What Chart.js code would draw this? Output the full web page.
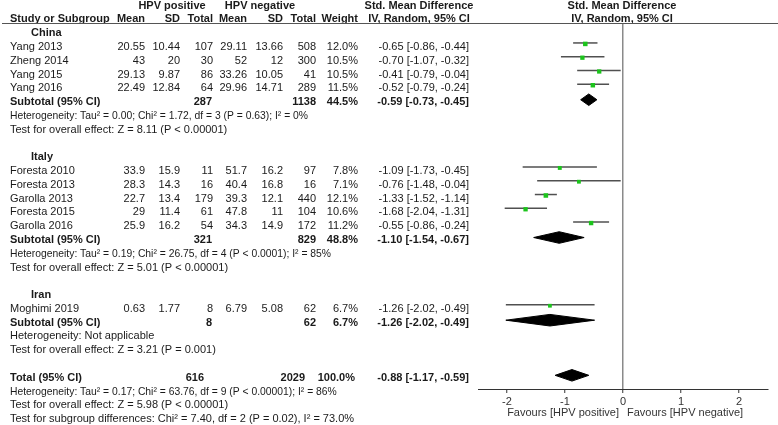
<!DOCTYPE html>
<html>
<head>
<meta charset="utf-8">
<script src="https://cdn.jsdelivr.net/npm/chart.js@4"></script>
<style>
  html, body { margin: 0; padding: 0; background: #fff; }
  #wrap { width: 778px; height: 425px; }
</style>
</head>
<body>
<div id="wrap"><canvas id="forest" width="778" height="425"></canvas></div>
<script>
// ---- data ----
const groups = ['China', 'Italy', 'Iran']
const studies = ['Yang 2013', 'Zheng 2014', 'Yang 2015', 'Yang 2016', 'Foresta 2010', 'Foresta 2013', 'Garolla 2013', 'Foresta 2015', 'Garolla 2016', 'Moghimi 2019']
const studyGroup = [0, 0, 0, 0, 1, 1, 1, 1, 1, 2]
const posMean = [20.55, 43, 29.13, 22.49, 33.9, 28.3, 22.7, 29, 25.9, 0.63]
const posSD = [10.44, 20, 9.87, 12.84, 15.9, 14.3, 13.4, 11.4, 16.2, 1.77]
const posTotal = [107, 30, 86, 64, 11, 16, 179, 61, 54, 8]
const negMean = [29.11, 52, 33.26, 29.96, 51.7, 40.4, 39.3, 47.8, 34.3, 6.79]
const negSD = [13.66, 12, 10.05, 14.71, 16.2, 16.8, 12.1, 11, 14.9, 5.08]
const negTotal = [508, 300, 41, 289, 97, 16, 440, 104, 172, 62]
const weight = [12.0, 10.5, 10.5, 11.5, 7.8, 7.1, 12.1, 10.6, 11.2, 6.7]
const smd = [-0.65, -0.70, -0.41, -0.52, -1.09, -0.76, -1.33, -1.68, -0.55, -1.26]
const ciLow = [-0.86, -1.07, -0.79, -0.79, -1.73, -1.48, -1.52, -2.04, -0.86, -2.02]
const ciHigh = [-0.44, -0.32, -0.04, -0.24, -0.45, -0.04, -1.14, -1.31, -0.24, -0.49]

const subPosTotal = [287, 321, 8]
const subNegTotal = [1138, 829, 62]
const subWeight = [44.5, 48.8, 6.7]
const subSmd = [-0.59, -1.10, -1.26]
const subLow = [-0.73, -1.54, -2.02]
const subHigh = [-0.45, -0.67, -0.49]
const subHet = [
    'Heterogeneity: Tau² = 0.00; Chi² = 1.72, df = 3 (P = 0.63); I² = 0%',
    'Heterogeneity: Tau² = 0.19; Chi² = 26.75, df = 4 (P < 0.0001); I² = 85%',
    'Heterogeneity: Not applicable'
]
const subTest = [
    'Test for overall effect: Z = 8.11 (P < 0.00001)',
    'Test for overall effect: Z = 5.01 (P < 0.00001)',
    'Test for overall effect: Z = 3.21 (P = 0.001)'
]

const totalN = [616, 2029]
const totalWeight = 100.0
const totalEst = [-0.88, -1.17, -0.59]
const totalNotes = [
    'Heterogeneity: Tau² = 0.17; Chi² = 63.76, df = 9 (P < 0.00001); I² = 86%',
    'Test for overall effect: Z = 5.98 (P < 0.00001)',
    'Test for subgroup differences: Chi² = 7.40, df = 2 (P = 0.02), I² = 73.0%'
]
const xTicks = [-2, -1, 0, 1, 2]
const favours = ['Favours [HPV positive]', 'Favours [HPV negative]']

// ---- row layout (one row per text line) ----
const studyRow = [], groupRow = [], subRow = [], hetRow = [], testRow = []
let r = 2
groups.forEach((g, gi) => {
    groupRow[gi] = r++
    studies.forEach((s, i) => { if (studyGroup[i] === gi) studyRow[i] = r++ })
    subRow[gi] = r++
    hetRow[gi] = r++
    testRow[gi] = r++
    r++
})
const totalRow = r

const FONT = '"Liberation Sans", Arial, sans-serif'
const GREEN = '#1cc41c'
const MARK_SHIFT = 0.3    // squares sit a little above the text line
const DIAM_SHIFT = 0.18
const DIAM_H = 0.42

function diamond(est, lo, hi, row) {
    const y = row - DIAM_SHIFT
    return {
        data: [{x: lo, y: y}, {x: est, y: y - DIAM_H}, {x: hi, y: y}, {x: est, y: y + DIAM_H}, {x: lo, y: y}],
        borderColor: '#000', backgroundColor: '#000', borderWidth: 1,
        fill: 'shape', pointRadius: 0, order: 2
    }
}

const datasets = []
// study squares (drawn last, on top of the whiskers)
datasets.push({
    data: smd.map((v, i) => ({x: v, y: studyRow[i] - MARK_SHIFT + 0.07})),
    showLine: false, pointStyle: 'rect',
    pointRadius: weight.map(w => 2 + w / 10),
    backgroundColor: GREEN, borderColor: GREEN, borderWidth: 0, order: -1
})
// CI whiskers
smd.forEach((v, i) => {
    datasets.push({
        data: [{x: ciLow[i], y: studyRow[i] - MARK_SHIFT}, {x: ciHigh[i], y: studyRow[i] - MARK_SHIFT}],
        borderColor: '#505050', borderWidth: 1.5, pointRadius: 0, order: 1
    })
})
// subtotal and total diamonds
groups.forEach((g, gi) => datasets.push(diamond(subSmd[gi], subLow[gi], subHigh[gi], subRow[gi])))
datasets.push(diamond(totalEst[0], totalEst[1], totalEst[2], totalRow))

const fmtCI = (e, lo, hi) => e.toFixed(2) + ' [' + lo.toFixed(2) + ', ' + hi.toFixed(2) + ']'

const tablePlugin = {
    id: 'table',
    afterDraw(chart) {
        const ctx = chart.ctx
        const yS = chart.scales.y
        const yp = k => yS.getPixelForValue(k)
        const txt = (s, x, k, align, bold, squeeze) => {
            ctx.font = (bold ? 'bold ' : '') + '11px ' + FONT
            ctx.textAlign = align
            if (squeeze) ctx.fillText(s, x, yp(k), ctx.measureText(s).width * squeeze)
            else ctx.fillText(s, x, yp(k))
        }
        ctx.save()
        ctx.fillStyle = '#1a1a1a'
        ctx.textBaseline = 'middle'

        // headers
        txt('HPV positive', 172, 0, 'center', true)
        txt('HPV negative', 260, 0, 'center', true)
        txt('Std. Mean Difference', 419, 0, 'center', true)
        txt('Std. Mean Difference', 622, 0, 'center', true)
        const h = 0.98
        txt('Study or Subgroup', 10, h, 'left', true)
        txt('Mean', 145, h, 'right', true)
        txt('SD', 180, h, 'right', true)
        txt('Total', 213, h, 'right', true)
        txt('Mean', 247, h, 'right', true)
        txt('SD', 283, h, 'right', true)
        txt('Total', 316, h, 'right', true)
        txt('Weight', 358, h, 'right', true)
        txt('IV, Random, 95% CI', 419, h, 'center', true)
        txt('IV, Random, 95% CI', 622, h, 'center', true)
        ctx.strokeStyle = '#555'
        ctx.lineWidth = 1
        ctx.beginPath()
        ctx.moveTo(2, 23.5)
        ctx.lineTo(778, 23.5)
        ctx.stroke()

        // studies
        studies.forEach((s, i) => {
            const k = studyRow[i]
            txt(s, 10, k, 'left', false)
            txt(String(posMean[i]), 145, k, 'right', false)
            txt(String(posSD[i]), 180, k, 'right', false)
            txt(String(posTotal[i]), 213, k, 'right', false)
            txt(String(negMean[i]), 247, k, 'right', false)
            txt(String(negSD[i]), 283, k, 'right', false)
            txt(String(negTotal[i]), 316, k, 'right', false)
            txt(weight[i].toFixed(1) + '%', 358, k, 'right', false)
            txt(fmtCI(smd[i], ciLow[i], ciHigh[i]), 469, k, 'right', false)
        })
        // groups
        groups.forEach((g, gi) => {
            txt(g, 31, groupRow[gi], 'left', true)
            const k = subRow[gi]
            txt('Subtotal (95% CI)', 10, k, 'left', true)
            txt(String(subPosTotal[gi]), 212, k, 'right', true)
            txt(String(subNegTotal[gi]), 316, k, 'right', true)
            txt(subWeight[gi].toFixed(1) + '%', 358, k, 'right', true)
            txt(fmtCI(subSmd[gi], subLow[gi], subHigh[gi]), 469, k, 'right', true)
            txt(subHet[gi], 10, hetRow[gi], 'left', false, subHet[gi].includes('Tau') ? 0.94 : 0)
            txt(subTest[gi], 10, testRow[gi], 'left', false)
        })
        // total
        txt('Total (95% CI)', 10, totalRow, 'left', true)
        txt(String(totalN[0]), 204, totalRow, 'right', true)
        txt(String(totalN[1]), 305, totalRow, 'right', true)
        txt(totalWeight.toFixed(1) + '%', 355, totalRow, 'right', true)
        txt(fmtCI(totalEst[0], totalEst[1], totalEst[2]), 469, totalRow, 'right', true)
        totalNotes.forEach((n, j) => txt(n, 10, totalRow + 1 + j, 'left', false, j === 0 ? 0.94 : 0))

        // favours labels under the axis
        const x0 = chart.scales.x.getPixelForValue(0)
        ctx.fillStyle = '#333'
        ctx.font = '11px ' + FONT
        ctx.textAlign = 'right'
        ctx.fillText(favours[0], x0 - 4, 413)
        ctx.textAlign = 'left'
        ctx.fillText(favours[1], x0 + 4, 413)
        ctx.restore()
    }
}

// y maps row index k to pixel 5.74 + 13.78 * k
const ROW0 = 5.74, ROWH = 13.78, TOP = 24, BOTTOM = 389
const yMin = (TOP - ROW0) / ROWH
const yMax = (BOTTOM - ROW0) / ROWH

const ctxF = document.getElementById('forest').getContext('2d')
new Chart(ctxF, {
    type: 'line',
    data: {datasets: datasets},
    options: {
        responsive: false,
        animation: false,
        layout: {padding: {left: 478, right: 10, top: TOP, bottom: 0}},
        plugins: {legend: {display: false}, tooltip: {enabled: false}},
        elements: {line: {tension: 0}},
        scales: {
            x: {
                type: 'linear', min: -2.5, max: 2.5,
                afterBuildTicks: axis => { axis.ticks = xTicks.map(v => ({value: v})) },
                afterFit: scale => { scale.height = 425 - BOTTOM },
                grid: {
                    color: c => (c.tick && c.tick.value === 0) ? '#8a8a8a' : 'rgba(0,0,0,0)',
                    lineWidth: 1.5,
                    tickLength: 4, tickColor: '#333', tickWidth: 1
                },
                border: {display: true, color: '#333', width: 1},
                ticks: {color: '#333', font: {family: FONT, size: 11}, padding: 2, maxRotation: 0}
            },
            y: {type: 'linear', display: false, reverse: true, min: yMin, max: yMax}
        }
    },
    plugins: [tablePlugin]
})
</script>
</body>
</html>
